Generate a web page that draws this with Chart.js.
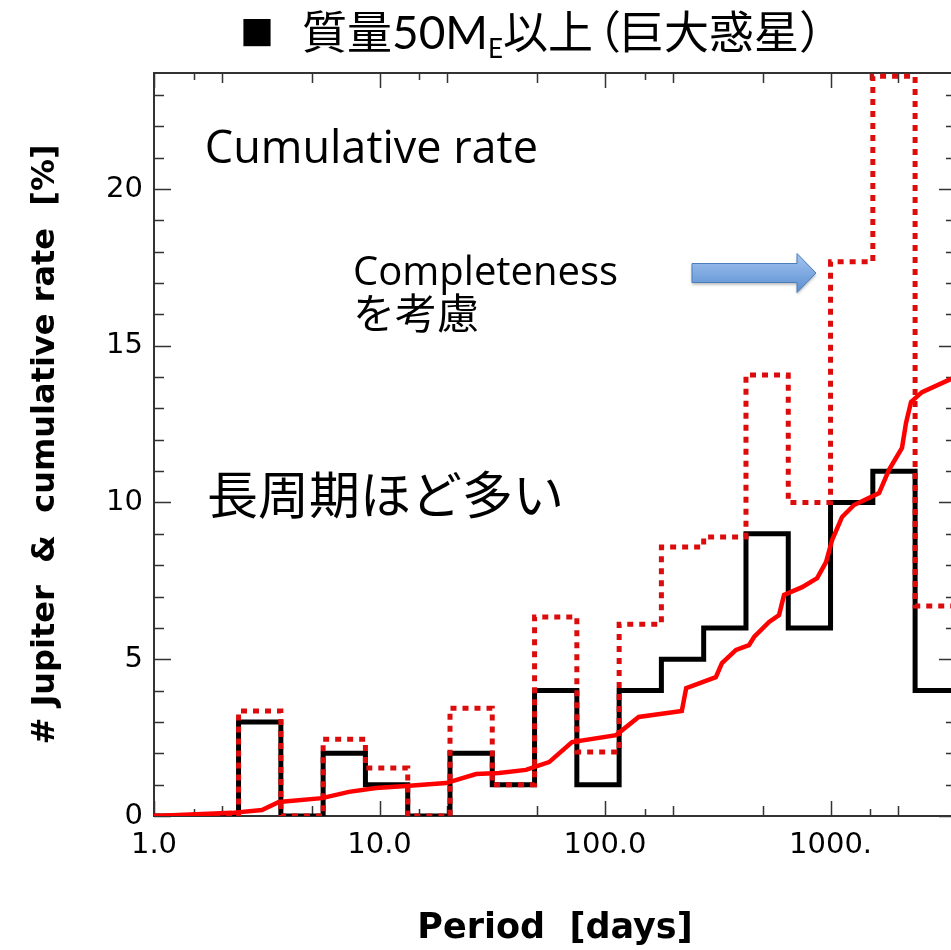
<!DOCTYPE html>
<html lang="ja">
<head>
<meta charset="UTF-8">
<title>質量50ME以上（巨大惑星）</title>
<script src="https://cdn.jsdelivr.net/npm/chart.js@4"></script>
<style>
  html, body { margin: 0; padding: 0; background: #fff; overflow: hidden; }
  canvas { display: block; }
</style>
</head>
<body>
<canvas id="periodChart" width="960" height="950"></canvas>
<script>
// histogram bin edges [days], 16 log bins per 3 decades
const binEdges = [1.0, 1.54, 2.371, 3.652, 5.623, 8.66, 13.34, 20.54, 31.62, 48.7, 74.99,
                  115.5, 177.8, 273.8, 421.7, 649.4, 1000, 1540, 2371, 3652];
// number of Jupiters in each bin
const jupiterCounts = [0, 0, 3, 0, 2, 1, 0, 2, 1, 4, 1, 4, 5, 6, 9, 6, 10, 11, 4];
// same, corrected for completeness
const correctedCounts = [0, 0, 3.35, 0, 2.45, 1.53, 0, 3.44, 1.0, 6.35, 2.04, 6.12, 8.58, 8.9,
                         14.07, 10.0, 17.68, 23.6, 6.7];
// cumulative rate curve
const cumPeriod = [1.0, 2.22, 3.01, 3.58, 5.56, 7.32, 9.65, 13.1, 19.7, 26.8, 33.9, 44.6, 56.5,
                   71.4, 112, 141, 219, 229, 310, 330, 381, 435, 458, 534, 591, 622, 748, 872,
                   955, 1016, 1125, 1271, 1641, 1816, 2074, 2161, 2275, 2545, 3352, 3600];
const cumRate = [0, 0.1, 0.19, 0.45, 0.57, 0.77, 0.89, 0.96, 1.05, 1.34, 1.37, 1.47, 1.72,
                 2.36, 2.58, 3.16, 3.35, 4.08, 4.43, 4.88, 5.30, 5.45, 5.71, 6.19, 6.41, 7.05,
                 7.30, 7.59, 8.10, 8.80, 9.54, 9.92, 10.30, 11.04, 11.74, 12.54, 13.21, 13.52,
                 13.91, 14.0];

// axis ticks
const xMajorTicks = [1, 10, 100, 1000];
const xTickLabels = ['1.0', '10.0', '100.0', '1000.'];
const xMinorTicks = [1.5, 2, 5, 15, 20, 50, 150, 200, 500, 1500, 2000];

function histPoints(counts) {
  // one point per left edge, plus the closing right edge
  return binEdges.map((e, i) => ({ x: e, y: counts[Math.min(i, counts.length - 1)] }));
}

// frame and inward IDL-style ticks on all four sides
const frameTicks = {
  id: 'frameTicks',
  beforeDatasetsDraw(chart) {
    const { ctx, chartArea: a, scales: { x, y } } = chart;
    ctx.save();
    ctx.strokeStyle = '#333';
    ctx.lineWidth = 2;
    ctx.strokeRect(a.left, a.top, a.right - a.left, a.bottom - a.top);
    ctx.beginPath();
    x.ticks.forEach(t => {
      const px = Math.round(x.getPixelForValue(t.value)) + 0.5;
      const m = t.value / Math.pow(10, Math.floor(Math.log10(t.value) + 1e-9));
      const len = Math.abs(m - 1) < 0.01 ? 15 : Math.abs(m - 1.5) < 0.01 ? 7 : 10;
      ctx.moveTo(px, a.bottom); ctx.lineTo(px, a.bottom - len);
      ctx.moveTo(px, a.top); ctx.lineTo(px, a.top + len);
    });
    y.ticks.forEach(t => {
      const py = Math.round(y.getPixelForValue(t.value)) + 0.5;
      const len = t.value % 5 === 0 ? 17 : 10;
      ctx.moveTo(a.left, py); ctx.lineTo(a.left + len, py);
      ctx.moveTo(a.right, py); ctx.lineTo(a.right - len, py);
    });
    ctx.lineWidth = 1.5;
    ctx.stroke();
    ctx.restore();
  }
};

// text notes, arrow and the page title
const notes = {
  id: 'notes',
  afterDatasetsDraw(chart) {
    const { ctx, scales: { x, y } } = chart;
    ctx.save();
    ctx.fillStyle = '#000';
    ctx.textAlign = 'left';
    ctx.textBaseline = 'alphabetic';
    ctx.font = '45px "Open Sans"';
    ctx.fillText('Cumulative rate', x.getPixelForValue(1.68), y.getPixelForValue(20.83));
    ctx.font = '40px "Open Sans"';
    ctx.fillText('Completeness', x.getPixelForValue(7.63), y.getPixelForValue(16.94));
    ctx.font = '42px "Noto Sans CJK JP"';
    ctx.fillText('を考慮', x.getPixelForValue(7.63), y.getPixelForValue(15.55));
    ctx.font = '51px "Noto Sans CJK JP"';
    ctx.textBaseline = 'middle';
    ctx.fillText('長周期ほど多い', x.getPixelForValue(1.72), y.getPixelForValue(10.26));

    // blue block arrow
    const x0 = x.getPixelForValue(243), x1 = x.getPixelForValue(710), x2 = x.getPixelForValue(862);
    const yc = y.getPixelForValue(17.32);
    const grad = ctx.createLinearGradient(0, yc - 19, 0, yc + 19);
    grad.addColorStop(0, '#a3c4ee');
    grad.addColorStop(1, '#5b8fd3');
    ctx.beginPath();
    ctx.moveTo(x0, yc - 9.5);
    ctx.lineTo(x1, yc - 9.5);
    ctx.lineTo(x1, yc - 19.5);
    ctx.lineTo(x2, yc);
    ctx.lineTo(x1, yc + 19.5);
    ctx.lineTo(x1, yc + 9.5);
    ctx.lineTo(x0, yc + 9.5);
    ctx.closePath();
    ctx.shadowColor = 'rgba(0,0,0,0.3)';
    ctx.shadowBlur = 3;
    ctx.shadowOffsetY = 2;
    ctx.fillStyle = grad;
    ctx.fill();
    ctx.shadowColor = 'transparent';
    ctx.strokeStyle = '#4a7ebb';
    ctx.lineWidth = 1;
    ctx.stroke();
    ctx.restore();
  },
  afterDraw(chart) {
    const ctx = chart.ctx;
    ctx.save();
    ctx.fillStyle = '#000';
    ctx.textBaseline = 'alphabetic';
    ctx.textAlign = 'left';
    const cjk = '45px "Noto Sans CJK JP"';
    const lat = '46px Lato, "Noto Sans CJK JP"';
    const sub = '26px Lato';
    let px = 240;
    const base = 49;
    // [text, font, baseline shift, glyph shift, advance override]
    const parts = [['■', '34px "Noto Sans CJK JP"', -3, 0, 62], ['質量', cjk, 0, 0, null],
                   ['50M', lat, 0, 0, null], ['E', sub, 9, 0, null], ['以上', cjk, 0, 0, null],
                   ['（', cjk, 0, -17, 26], ['巨大惑星', cjk, 0, 0, null], ['）', cjk, 0, 0, null]];
    parts.forEach(([t, f, dy, shift, adv]) => {
      ctx.font = f;
      ctx.fillText(t, px + shift, base + dy);
      px += adv !== null ? adv : ctx.measureText(t).width;
    });
    ctx.restore();
  }
};

new Chart(document.getElementById('periodChart'), {
  type: 'line',
  data: {
    datasets: [
      {
        label: 'Cumulative rate',
        data: cumPeriod.map((p, i) => ({ x: p, y: cumRate[i] })),
        borderColor: '#f00',
        borderWidth: 4.5,
        pointRadius: 0,
        tension: 0,
        order: 0
      },
      {
        label: 'Completeness corrected',
        data: histPoints(correctedCounts),
        borderColor: '#dc0c0c',
        borderWidth: 5,
        borderDash: [6, 6],
        stepped: true,
        pointRadius: 0,
        order: 1
      },
      {
        label: '# Jupiter',
        data: histPoints(jupiterCounts),
        borderColor: '#000',
        borderWidth: 5,
        stepped: true,
        pointRadius: 0,
        order: 2
      }
    ]
  },
  options: {
    responsive: false,
    animation: false,
    layout: { padding: { left: 0, right: 4, top: 73, bottom: 0 } },
    plugins: { legend: { display: false }, tooltip: { enabled: false } },
    scales: {
      x: {
        type: 'logarithmic',
        min: 1,
        max: 3600,
        grid: { display: false, drawTicks: false },
        border: { display: false },
        afterBuildTicks: scale => {
          scale.ticks = xMajorTicks.concat(xMinorTicks).sort((a, b) => a - b)
            .map(v => ({ value: v }));
        },
        afterFit: scale => { scale.height = 134; },
        ticks: {
          autoSkip: false,
          maxRotation: 0,
          padding: 12,
          color: '#000',
          font: { family: 'DejaVu Sans', size: 29 },
          callback: v => {
            const i = xMajorTicks.indexOf(v);
            return i >= 0 ? xTickLabels[i] : '';
          }
        },
        title: {
          display: true,
          text: 'Period  [days]',
          color: '#000',
          font: { family: 'DejaVu Sans', size: 35, weight: 'bold' },
          padding: { top: 0, bottom: 0 }
        }
      },
      y: {
        min: 0,
        max: 23.7,
        grid: { display: false, drawTicks: false },
        border: { display: false },
        afterFit: scale => { scale.width = 154; },
        ticks: {
          stepSize: 1,
          includeBounds: false,
          autoSkip: false,
          padding: 11,
          color: '#000',
          font: { family: 'DejaVu Sans', size: 29 },
          callback: v => (v % 5 === 0 ? String(v) : '')
        },
        title: {
          display: true,
          text: '# Jupiter  &  cumulative rate  [%]',
          color: '#000',
          font: { family: 'DejaVu Sans', size: 32, weight: 'bold' },
          padding: { top: 26, bottom: 0 }
        }
      }
    }
  },
  plugins: [frameTicks, notes]
});
</script>
</body>
</html>
